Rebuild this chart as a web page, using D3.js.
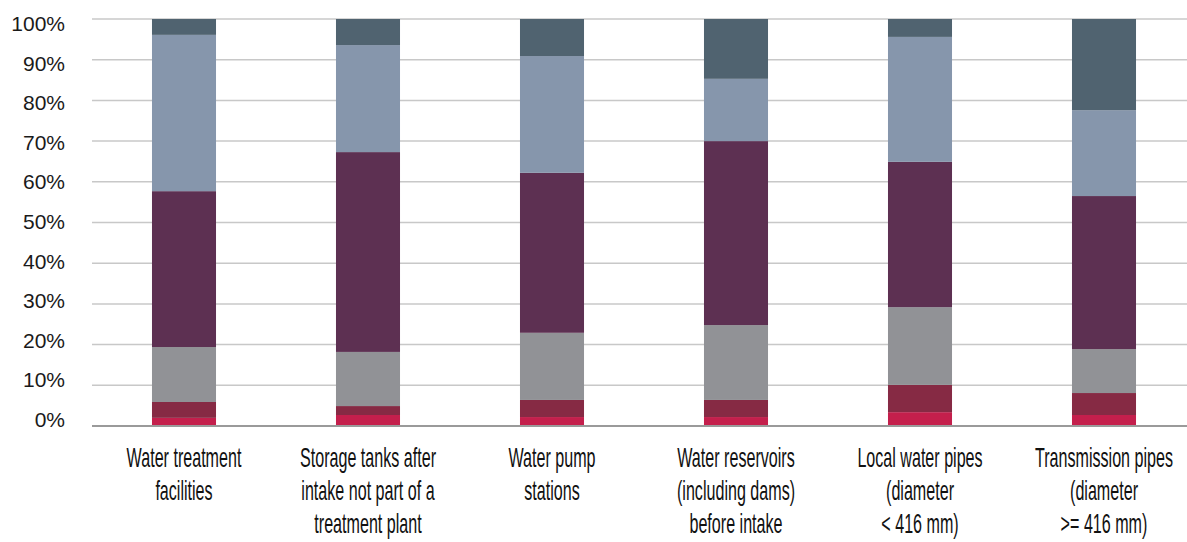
<!DOCTYPE html>
<html><head><meta charset="utf-8">
<script src="https://cdn.jsdelivr.net/npm/d3@7"></script>
<style>body{margin:0;background:#fff}svg{display:block}</style>
</head><body>
<svg id="c" width="1187" height="542"></svg>
<script>
const categories = [
  ["Water treatment", "facilities"],
  ["Storage tanks after", "intake not part of a", "treatment plant"],
  ["Water pump", "stations"],
  ["Water reservoirs", "(including dams)", "before intake"],
  ["Local water pipes", "(diameter", "< 416 mm)"],
  ["Transmission pipes", "(diameter", ">= 416 mm)"]
];
const seriesNames = ["s1", "s2", "s3", "s4", "s5", "s6"];
const s1 = [2.0, 2.7, 2.2, 2.2, 3.4, 2.7];
const s2 = [3.9, 2.2, 4.2, 4.2, 6.7, 5.4];
const s3 = [13.5, 13.3, 16.5, 18.4, 19.1, 10.8];
const s4 = [38.3, 49.1, 39.3, 45.2, 35.7, 37.6];
const s5 = [38.4, 26.3, 28.7, 15.3, 30.7, 21.1];
const s6 = [3.9, 6.4, 9.1, 14.7, 4.4, 22.4];
const colors = ["#c41f4c", "#862a44", "#919296", "#5d3052", "#8696ac", "#506370"];
const yTicks = [0, 10, 20, 30, 40, 50, 60, 70, 80, 90, 100];

(function () {
const svg = d3.select("#c");
const mLeft = 92, mTop = 19, mBottom = 426, W = 1187;
const rows = categories.map((c, i) => {
  const o = {i};
  [s1, s2, s3, s4, s5, s6].forEach((s, k) => o[seriesNames[k]] = s[i]);
  return o;
});
const stack = d3.stack().keys(seriesNames)(rows);
const x = d3.scaleBand().domain(d3.range(categories.length)).range([mLeft, mLeft + 184 * 6]).paddingInner(0.652).paddingOuter(0.326);
const y = d3.scaleLinear().domain([0, 100]).range([mBottom, mTop]);
const yLab = d3.scaleLinear().domain([0, 100]).range([419.5, 23.5]);

svg.append("g").selectAll("line").data(yTicks.filter(d => d > 0)).join("line")
  .attr("x1", mLeft).attr("x2", W).attr("y1", d => y(d)).attr("y2", d => y(d))
  .attr("stroke", "#c8c8c8").attr("stroke-width", 1.5);

svg.append("g").selectAll("text").data(yTicks).join("text")
  .attr("x", 65).attr("y", d => yLab(d)).attr("dy", "0.36em").attr("text-anchor", "end")
  .attr("font-family", "Liberation Sans, Arial, sans-serif").attr("font-size", 21).attr("fill", "#1a1a1a")
  .text(d => d + "%");

svg.append("g").selectAll("g").data(stack).join("g").attr("fill", (d, k) => colors[k])
  .selectAll("rect").data(d => d).join("rect")
  .attr("x", (d, i) => x(i)).attr("width", x.bandwidth())
  .attr("y", d => y(d[1])).attr("height", d => y(d[0]) - y(d[1]));

svg.append("line").attr("x1", mLeft).attr("x2", W).attr("y1", y(0)).attr("y2", y(0))
  .attr("stroke", "#9a9a9a").attr("stroke-width", 2);

const sx = 0.575;
const lab = svg.append("g").selectAll("g").data(categories).join("g")
  .attr("transform", (d, i) => `translate(${x(i) + x.bandwidth() / 2},0) scale(${sx},1)`);
lab.append("text")
  .attr("text-anchor", "middle")
  .attr("font-family", "Liberation Sans, Arial, sans-serif")
  .attr("font-size", 28).attr("fill", "#111")
  .selectAll("tspan").data(d => d).join("tspan")
    .attr("x", 0).attr("y", (d, j) => 467 + j * 33).text(d => d);
})();
</script>
</body></html>
